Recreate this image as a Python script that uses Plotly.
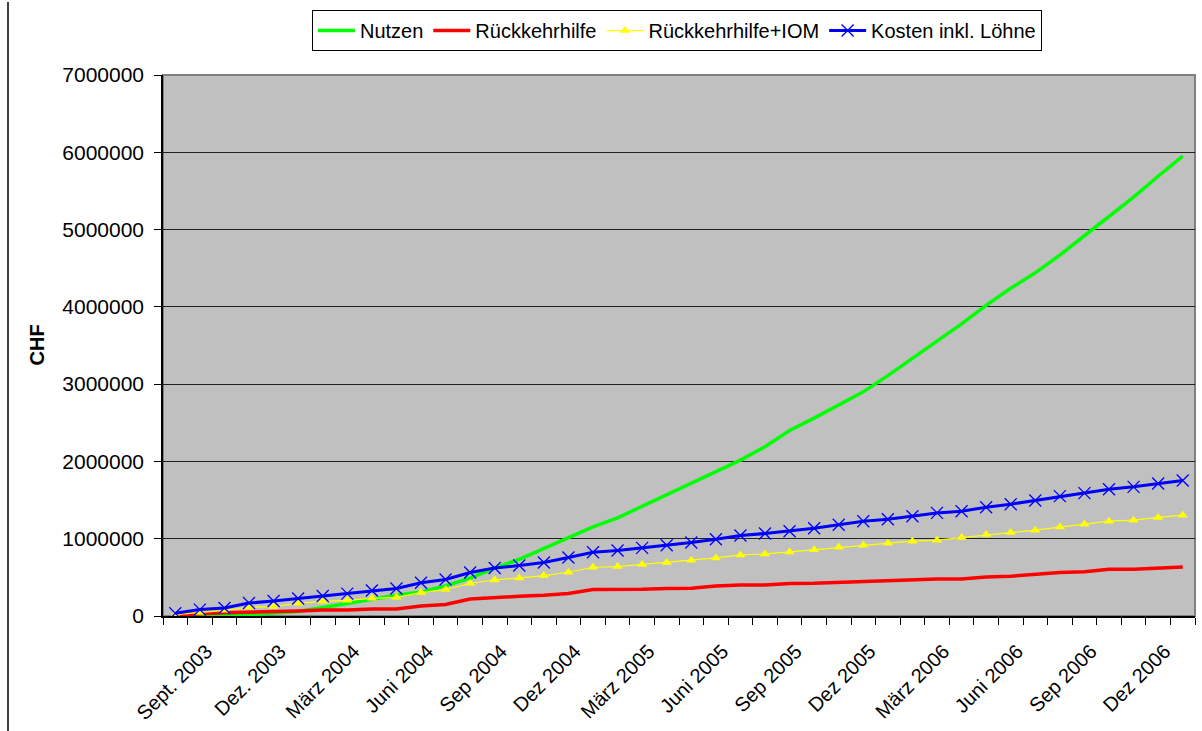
import plotly.graph_objects as go

# Monthly categories Juli 2003 .. Dez 2006 (42 months); labels every quarter
n_months = 42
label_idx = list(range(2, 42, 3))
label_text = ["Sept. 2003", "Dez. 2003", "März 2004", "Juni 2004", "Sep 2004", "Dez 2004",
              "März 2005", "Juni 2005", "Sep 2005", "Dez 2005", "März 2006", "Juni 2006",
              "Sep 2006", "Dez 2006"]

# Cumulative values in CHF (millions)
nutzen = [0.0, 0.0, 0.005, 0.02, 0.04, 0.057, 0.11, 0.165, 0.22, 0.268,
          0.31, 0.39, 0.49, 0.62, 0.734, 0.873, 1.016, 1.153, 1.27, 1.42,
          1.563, 1.715, 1.865, 2.017, 2.19, 2.40, 2.56, 2.73, 2.90, 3.11,
          3.33, 3.55, 3.78, 4.02, 4.24, 4.44, 4.67, 4.92, 5.17, 5.42,
          5.69, 5.95]
rueckkehrhilfe = [0.005, 0.03, 0.043, 0.05, 0.05, 0.065, 0.078, 0.078, 0.09, 0.09,
                  0.13, 0.15, 0.22, 0.24, 0.255, 0.268, 0.29, 0.342, 0.342, 0.346,
                  0.355, 0.359, 0.389, 0.402, 0.402, 0.42, 0.424, 0.437, 0.449, 0.462,
                  0.47, 0.48, 0.48, 0.505, 0.515, 0.54, 0.562, 0.574, 0.604, 0.604,
                  0.619, 0.635]
rueckkehrhilfe_iom = [0.018, 0.044, 0.074, 0.113, 0.122, 0.165, 0.19, 0.203, 0.229, 0.242,
                      0.303, 0.342, 0.424, 0.466, 0.492, 0.523, 0.566, 0.631, 0.64, 0.666,
                      0.692, 0.722, 0.751, 0.79, 0.803, 0.829, 0.857, 0.89, 0.916, 0.942,
                      0.968, 0.981, 1.016, 1.054, 1.08, 1.11, 1.153, 1.188, 1.227, 1.24,
                      1.275, 1.304]
kosten = [0.036, 0.083, 0.104, 0.168, 0.193, 0.227, 0.259, 0.29, 0.33, 0.356,
          0.43, 0.472, 0.563, 0.622, 0.653, 0.693, 0.756, 0.825, 0.847, 0.881,
          0.916, 0.951, 0.994, 1.041, 1.067, 1.097, 1.136, 1.181, 1.227, 1.252,
          1.291, 1.334, 1.356, 1.408, 1.447, 1.495, 1.551, 1.59, 1.641, 1.671,
          1.715, 1.754]

x = list(range(n_months))
to_chf = lambda vals: [v * 1e6 for v in vals]

FONT = "Liberation Sans, Arial, sans-serif"

fig = go.Figure()
fig.add_trace(go.Scatter(x=x, y=to_chf(nutzen), name="Nutzen", mode="lines",
                         line=dict(color="#00FF00", width=3.5)))
fig.add_trace(go.Scatter(x=x, y=to_chf(rueckkehrhilfe), name="Rückkehrhilfe", mode="lines",
                         line=dict(color="#FF0000", width=3.5)))
fig.add_trace(go.Scatter(x=x, y=to_chf(rueckkehrhilfe_iom), name="Rückkehrhilfe+IOM",
                         mode="lines+markers",
                         line=dict(color="#FFFF00", width=1.2),
                         marker=dict(symbol="triangle-up", size=9, color="#FFFF00",
                                     line=dict(width=0))))
fig.add_trace(go.Scatter(x=x, y=to_chf(kosten), name="Kosten inkl. Löhne",
                         mode="lines+markers",
                         line=dict(color="#0000FF", width=3),
                         marker=dict(symbol="x-thin-open", size=12, color="#0000FF",
                                     line=dict(width=1.3, color="#0000FF"))))

fig.update_layout(
    width=1202, height=731,
    margin=dict(l=163, r=7, t=75, b=115, autoexpand=False),
    paper_bgcolor="white",
    plot_bgcolor="#C0C0C0",
    font=dict(family=FONT, size=20, color="black"),
    showlegend=True,
    legend=dict(orientation="h", x=0.498, xanchor="center", y=1.12, yanchor="top",
                bordercolor="black", borderwidth=1, bgcolor="white",
                font=dict(size=20), itemwidth=37, tracegroupgap=0),
    xaxis=dict(
        range=[-0.5, n_months - 0.5],
        tickmode="array", tickvals=label_idx, ticktext=label_text,
        tickangle=-45, ticks="", showgrid=False, zeroline=False,
        showline=True, linecolor="black", linewidth=1.5,
        ticklabelstandoff=14, ticklabelshift=-18,
        minor=dict(ticks="outside", tick0=-0.5, dtick=1, ticklen=7,
                   tickcolor="black", tickwidth=1, showgrid=False),
        tickfont=dict(size=20),
    ),
    yaxis=dict(
        range=[0, 7e6], tickmode="linear", tick0=0, dtick=1e6,
        tickformat="d", ticks="outside", ticklen=7, tickcolor="black",
        showgrid=True, gridcolor="#222222", gridwidth=1,
        zeroline=False, showline=True, linecolor="black", linewidth=1.5,
        ticklabelstandoff=6,
        tickfont=dict(size=21),
    ),
    annotations=[dict(text="<b>CHF</b>", xref="paper", yref="paper",
                      x=(36 - 163) / 1032, y=0.5, xanchor="center", yanchor="middle",
                      textangle=-90, showarrow=False, font=dict(size=20))],
    shapes=[
        # plot area frame
        dict(type="rect", xref="paper", yref="paper", x0=0, x1=1, y0=0, y1=1,
             line=dict(color="#808080", width=2), layer="below"),
        # outer chart frame
        dict(type="line", xref="paper", yref="paper",
             x0=(8 - 163) / 1032, x1=(8 - 163) / 1032,
             y0=(616 - 2) / 541, y1=(616 - 735) / 541,
             line=dict(color="black", width=1.5)),
    ],
)

fig.write_html("out.html")
